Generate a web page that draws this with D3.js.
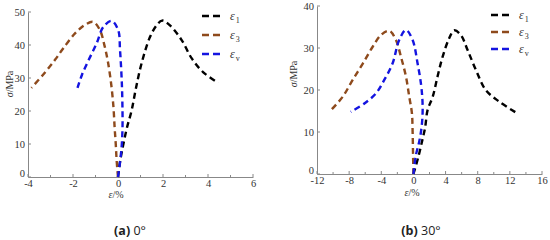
<!DOCTYPE html>
<html>
<head>
<meta charset="utf-8">
<script src="https://cdn.jsdelivr.net/npm/d3@7"></script>
<style>
  body { margin: 0; background: #fff; }
  svg { display: block; }
</style>
</head>
<body>
<div id="chart"></div>
<script>
// panel (a) 0 deg: [strain %, stress MPa]
var e1_a = [[0,0],[0.1,5],[0.24,10],[0.4,15],[0.6,20],[0.8,27],[1.05,34.5],[1.42,42.4],[1.72,46],[1.96,47.4],[2.3,46],[2.83,41.5],[3.27,36],[3.78,31.8],[4.45,28.5]];
var e3_a = [[0,0],[-0.06,5],[-0.1,10],[-0.15,15],[-0.2,21],[-0.3,28],[-0.45,35],[-0.6,39.8],[-0.8,44.5],[-1.1,47],[-1.45,46.2],[-1.9,43.6],[-2.43,39],[-2.8,35.5],[-3.33,31],[-3.85,27]];
var ev_a = [[0,0],[0.1,5],[0.17,10],[0.2,15],[0.2,20],[0.17,28.5],[0.09,38.5],[0.01,44.5],[-0.28,47.3],[-0.65,45.5],[-0.95,40.5],[-1.3,35.5],[-1.6,31],[-1.8,27]];

// panel (b) 30 deg
var e1_b = [[0,0],[0.6,4],[1.1,8],[1.45,11],[1.76,15.2],[2.4,18.4],[3.0,23.2],[3.63,27.9],[4.45,32.3],[5.07,34.2],[5.9,33.1],[6.74,29.5],[7.77,24.8],[9.0,20],[10.7,17.2],[12.96,14.4]];
var e3_b = [[0,0],[-0.05,5],[-0.1,10],[-0.19,14.5],[-0.52,18.4],[-0.93,23.2],[-1.55,27.9],[-2.18,31.9],[-3.0,34.1],[-4.04,33.1],[-5.07,30.3],[-6.3,26.3],[-7.56,22.4],[-8.8,18.4],[-10.26,15.2]];
var ev_b = [[0,0],[0.31,4.5],[0.72,7.7],[1.0,10.9],[1.14,14.5],[1.12,17.6],[0.93,21.6],[0.52,26.3],[-0.1,31.9],[-0.93,34.3],[-1.77,31.9],[-2.6,26.3],[-3.63,22.4],[-4.66,19.2],[-6.1,16.8],[-7.8,14.8]];

var seriesNames = ["1", "3", "v"];
var seriesColors = ["#000000", "#8e4a1c", "#1414e0"];

var xTicksA = [-4, -2, 0, 2, 4, 6];
var yTicksA = [0, 10, 20, 30, 40, 50];
var xTicksB = [-12, -8, -4, 0, 4, 8, 12, 16];
var yTicksB = [0, 10, 20, 30, 40];

var svg = d3.select("#chart").append("svg")
    .attr("width", 550)
    .attr("height", 240);

function drawPanel(opt) {
    var x = d3.scaleLinear().domain(opt.xDomain).range(opt.xRange);
    var y = d3.scaleLinear().domain(opt.yDomain).range(opt.yRange);
    var g = svg.append("g");

    var xAxis = d3.axisBottom(x).tickValues(opt.xTicks).tickSize(0).tickPadding(3)
        .tickFormat(function (d) { return d; });
    var gx = g.append("g")
        .attr("transform", "translate(0," + y(0) + ")")
        .call(xAxis);
    // ticks pointing inwards, minor ones in between
    var minorX = [];
    for (var i = 0; i < opt.xTicks.length - 1; i++) {
        minorX.push((opt.xTicks[i] + opt.xTicks[i + 1]) / 2);
    }
    g.selectAll(".xmaj").data(opt.xTicks).enter().append("line")
        .attr("x1", function (d) { return x(d); }).attr("x2", function (d) { return x(d); })
        .attr("y1", y(0)).attr("y2", y(0) - 3)
        .attr("stroke", "#888");
    g.selectAll(".xmin").data(minorX).enter().append("line")
        .attr("x1", function (d) { return x(d); }).attr("x2", function (d) { return x(d); })
        .attr("y1", y(0)).attr("y2", y(0) - 2)
        .attr("stroke", "#888");

    var yAxis = d3.axisLeft(y).tickValues(opt.yTicks).tickSize(0).tickPadding(3);
    var gy = g.append("g")
        .attr("transform", "translate(" + opt.xRange[0] + ",0)")
        .call(yAxis);
    // lift the corner "0" so it clears the x labels
    gy.selectAll(".tick text")
        .attr("dy", function (d) { return d === 0 ? "-0.05em" : "0.32em"; });
    g.selectAll(".ymaj").data(opt.yTicks).enter().append("line")
        .attr("x1", opt.xRange[0]).attr("x2", opt.xRange[0] + 3)
        .attr("y1", function (d) { return y(d); }).attr("y2", function (d) { return y(d); })
        .attr("stroke", "#888");

    [gx, gy].forEach(function (a) {
        a.select(".domain").attr("stroke", "#888");
        a.selectAll("text")
            .attr("fill", "#333")
            .style("font-family", "'Liberation Serif', serif")
            .style("font-size", "10.5px");
    });

    // axis titles
    var xt = g.append("text")
        .attr("x", opt.xLabelPos[0]).attr("y", opt.xLabelPos[1])
        .attr("text-anchor", "middle")
        .style("font-family", "'Liberation Serif', serif")
        .style("font-size", "10px")
        .attr("fill", "#333");
    xt.append("tspan").style("font-style", "italic").text("ε");
    xt.append("tspan").text("/%");

    var yt = g.append("text")
        .attr("transform", "translate(" + opt.yLabelPos[0] + "," + opt.yLabelPos[1] + ") rotate(-90)")
        .attr("text-anchor", "middle")
        .style("font-family", "'Liberation Serif', serif")
        .style("font-size", "10px")
        .attr("fill", "#333");
    yt.append("tspan").style("font-style", "italic").text("σ");
    yt.append("tspan").text("/MPa");

    var line = d3.line()
        .x(function (d) { return x(d[0]); })
        .y(function (d) { return y(d[1]); })
        .curve(d3.curveCatmullRom.alpha(0.5));

    opt.series.forEach(function (s, i) {
        g.append("path")
            .datum(s)
            .attr("d", line)
            .attr("fill", "none")
            .attr("stroke", seriesColors[i])
            .attr("stroke-width", 2.4)
            .attr("stroke-dasharray", "6,4");
    });

    // legend
    var leg = g.selectAll(".legend")
        .data(seriesNames)
        .enter().append("g")
        .attr("transform", function (d, i) {
            return "translate(" + opt.legendPos[0] + "," + (opt.legendPos[1] + i * opt.legendStep) + ")";
        });
    leg.append("line")
        .attr("x1", 0).attr("x2", 21)
        .attr("stroke", function (d, i) { return seriesColors[i]; })
        .attr("stroke-width", 2.4)
        .attr("stroke-dasharray", "7,4");
    var lt = leg.append("text")
        .attr("x", 28).attr("y", 4)
        .style("font-family", "'Liberation Serif', serif")
        .style("font-size", "12px")
        .attr("fill", "#333");
    lt.append("tspan").style("font-style", "italic").text("ε");
    lt.append("tspan").attr("dy", 3).attr("dx", 1).style("font-size", "8px").text(function (d) { return d; });

    // caption
    var cap = svg.append("text")
        .attr("x", opt.captionPos[0]).attr("y", opt.captionPos[1])
        .attr("text-anchor", "middle")
        .style("font-family", "'Open Sans', sans-serif")
        .style("font-size", "12.5px")
        .attr("fill", "#222");
    cap.append("tspan").style("font-weight", "bold").text(opt.captionTag);
    cap.append("tspan").text(" " + opt.captionText);
}

drawPanel({
    xDomain: [-4, 6], xRange: [28, 253],
    yDomain: [0, 50], yRange: [177, 12],
    xTicks: xTicksA, yTicks: yTicksA,
    series: [e1_a, e3_a, ev_a],
    xLabelPos: [116, 198], yLabelPos: [13, 84],
    legendPos: [202, 16], legendStep: 19,
    captionPos: [130, 235], captionTag: "(a)", captionText: "0°"
});

drawPanel({
    xDomain: [-12, 16], xRange: [317, 542],
    yDomain: [0, 40], yRange: [174, 6],
    xTicks: xTicksB, yTicks: yTicksB,
    series: [e1_b, e3_b, ev_b],
    xLabelPos: [412, 196], yLabelPos: [297, 74],
    legendPos: [491, 15], legendStep: 17,
    captionPos: [421, 235], captionTag: "(b)", captionText: "30°"
});
</script>
</body>
</html>
